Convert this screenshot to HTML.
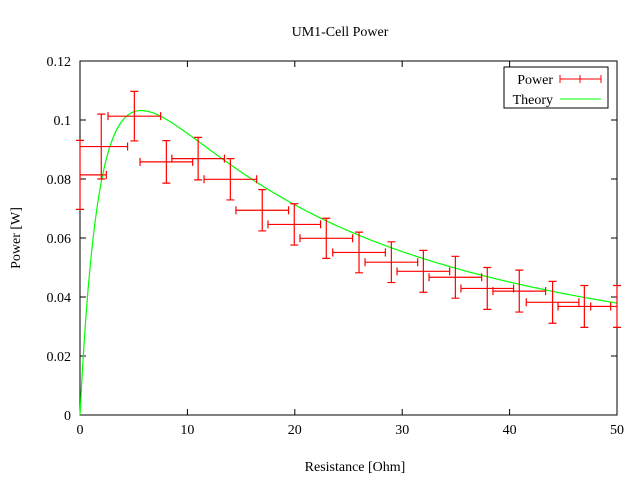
<!DOCTYPE html>
<html><head><meta charset="utf-8"><style>
body{margin:0;background:#fff}
svg text{font-family:"Liberation Serif",serif;font-size:14px;fill:#000}
</style></head><body>
<svg id="chart" width="640" height="480">
<rect width="640" height="480" fill="#fff"/>
<g id="axes"></g>
<g id="series"></g>
<text x="340" y="36" text-anchor="middle">UM1-Cell Power</text>
<text x="355" y="471" text-anchor="middle">Resistance [Ohm]</text>
<text transform="translate(20,238) rotate(-90)" text-anchor="middle">Power [W]</text>
<g>
<rect x="504" y="67" width="104" height="41" fill="none" stroke="#000"/>
<text x="553" y="84" text-anchor="end">Power</text>
<text x="553" y="104" text-anchor="end">Theory</text>
<path d="M560,79H601M560,75V83M580,75V83M601,75V83" stroke="#f00" stroke-width="1"/>
<path d="M560,99H601" stroke="#0f0" stroke-width="1"/>
</g>
</svg>
<script>
const resistance=[0,1.98,5.06,8.04,11.0,14.0,16.97,19.95,22.93,25.98,28.99,31.97,34.95,37.92,40.9,44.0,46.96,50.0];
const power=[0.0814,0.091,0.1013,0.0858,0.0869,0.0799,0.0694,0.0646,0.0599,0.0551,0.0518,0.0487,0.0467,0.0429,0.042,0.0382,0.0368,0.0368];
const powerErr=[0.0117,0.011,0.0084,0.0072,0.0072,0.007,0.007,0.007,0.0068,0.0069,0.0069,0.0071,0.0071,0.0071,0.0071,0.0071,0.0071,0.0071];
const resErr=[2.45,2.45,2.45,2.45,2.45,2.45,2.45,2.45,2.45,2.45,2.45,2.45,2.45,2.45,2.45,2.45,2.45,2.45];
const xTicks=[0,10,20,30,40,50];
const yTicks=[0,0.02,0.04,0.06,0.08,0.1,0.12];
const yTickLabels=["0","0.02","0.04","0.06","0.08","0.1","0.12"];
const theoryA=2.353, theoryR=5.7;

const NS="http://www.w3.org/2000/svg";
const L=80,R=617,T=61,B=415;
const sx=v=>L+(v-0)/(50-0)*(R-L);
const sy=v=>B-(v-0)/(0.12-0)*(B-T);
function mk(tag,attrs,parent){const e=document.createElementNS(NS,tag);for(const k in attrs)e.setAttribute(k,attrs[k]);parent.appendChild(e);return e;}
const ax=document.getElementById('axes'), se=document.getElementById('series');
const frame=mk('rect',{x:L,y:T,width:R-L,height:B-T,fill:'none',stroke:'#000'},ax);


xTicks.forEach(v=>{
  const x=sx(v);
  const t=mk('path',{d:`M${x},${B}v-6M${x},${T}v6`,stroke:'#000'},ax);
  
  
  const lb=mk('text',{x:x,y:B+19,'text-anchor':'middle'},ax);lb.textContent=v;
  
  
});
yTicks.forEach((v,i)=>{
  const y=sy(v);
  const t=mk('path',{d:`M${L},${y}h6M${R},${y}h-6`,stroke:'#000'},ax);
  
  
  const lb=mk('text',{x:L-9,y:y+5,'text-anchor':'end'},ax);lb.textContent=yTickLabels[i];
  
  
});
let d='';
for(let i=0;i<=400;i++){const r=50*i/400;const p=theoryA*r/((r+theoryR)**2);d+=(i?'L':'M')+sx(r).toFixed(2)+','+sy(p).toFixed(2);}
const cur=mk('path',{d:d,fill:'none',stroke:'#0f0','stroke-width':1.2},se);


resistance.forEach((r,i)=>{
  const x=sx(r),y=sy(power[i]);
  const rx1=sx(r-resErr[i]),rx2=sx(r+resErr[i]);
  const x1=Math.max(L,rx1),x2=Math.min(R,rx2);
  const y1=sy(power[i]-powerErr[i]),y2=sy(power[i]+powerErr[i]);
  let dd=`M${x1},${y}H${x2}M${x},${y1}V${y2}M${x-4},${y1}H${x+4}M${x-4},${y2}H${x+4}`;
  if(rx1>=L) dd+=`M${x1},${y-4}V${y+4}`;
  if(rx2<=R) dd+=`M${x2},${y-4}V${y+4}`;
  const e=mk('path',{d:dd,stroke:'#f00','stroke-width':1.2,fill:'none'},se);
  
  
});
</script>
</body></html>
